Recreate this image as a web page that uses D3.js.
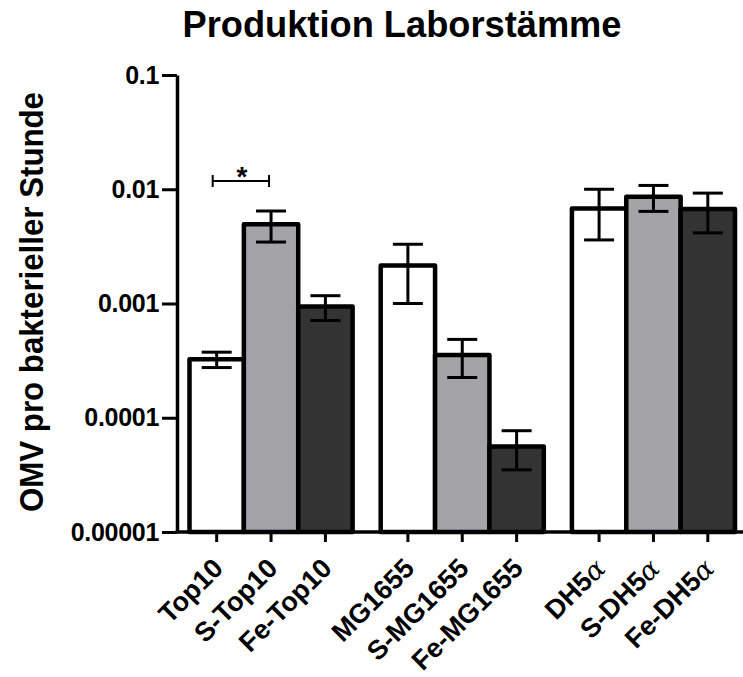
<!DOCTYPE html>
<html>
<head>
<meta charset="utf-8">
<script src="https://cdn.jsdelivr.net/npm/d3@7"></script>
<style>
  body { margin: 0; background: #fff; }
  svg { display: block; font-family: "Liberation Sans", Arial, sans-serif; }
</style>
</head>
<body>
<div id="chart"></div>
<script>
// Daten
const stamme = ["Top10", "MG1655", "DH5α"];
const varianten = ["", "S-", "Fe-"];
const mittelOhne = [0.000325, 0.00215, 0.0068];
const mittelS = [0.00495, 0.000355, 0.0086];
const mittelFe = [0.00094, 0.000056, 0.0067];
const semOhne = [0.00005, 0.00115, 0.0032];
const semS = [0.0015, 0.00013, 0.0022];
const semFe = [0.00023, 0.000021, 0.00255];
const yTickLabels = ["0.00001", "0.0001", "0.001", "0.01", "0.1"];
const farben = ["#ffffff", "#a3a3a8", "#333333"];

const width = 743, height = 677;
const svg = d3.select("#chart").append("svg")
  .attr("width", width)
  .attr("height", height);

const mittel = [mittelOhne, mittelS, mittelFe];
const sem = [semOhne, semS, semFe];

// Tabelle fuer die Balken
const data = [];
stamme.forEach((s, gi) => {
  varianten.forEach((v, vi) => {
    data.push({ stamm: s, variante: vi, label: v + s, wert: mittel[vi][gi], fehler: sem[vi][gi] });
  });
});

const x0 = d3.scaleBand()
  .domain(stamme)
  .range([189.5, 735])
  .paddingInner(0.147)
  .paddingOuter(0);

const x1 = d3.scaleBand()
  .domain(d3.range(varianten.length))
  .range([0, x0.bandwidth()]);

const y = d3.scaleLog()
  .domain([1e-5, 0.1])
  .range([532, 75]);

const cx = d => x0(d.stamm) + x1(d.variante) + x1.bandwidth() / 2;

// Balken
svg.append("g").selectAll("rect")
  .data(data)
  .enter().append("rect")
  .attr("x", d => x0(d.stamm) + x1(d.variante))
  .attr("y", d => y(d.wert))
  .attr("width", x1.bandwidth())
  .attr("height", d => y(1e-5) - y(d.wert))
  .attr("fill", d => farben[d.variante])
  .attr("stroke", "#000")
  .attr("stroke-width", 4.5)
  .attr("stroke-linejoin", "round");

// Fehlerbalken
const fb = svg.append("g")
  .attr("stroke", "#000")
  .attr("stroke-width", 3);
data.forEach(d => {
  const hi = y(d.wert + d.fehler), lo = y(d.wert - d.fehler), c = cx(d);
  fb.append("line").attr("x1", c).attr("x2", c).attr("y1", hi).attr("y2", lo);
  fb.append("line").attr("x1", c - 15).attr("x2", c + 15).attr("y1", hi).attr("y2", hi);
  fb.append("line").attr("x1", c - 15).attr("x2", c + 15).attr("y1", lo).attr("y2", lo);
});

// y-Achse
const yAxis = svg.append("g")
  .attr("transform", "translate(177,0)")
  .call(d3.axisLeft(y)
    .tickValues(yTickLabels.map(Number))
    .tickFormat((d, i) => yTickLabels[i])
    .tickSize(15)
    .tickSizeOuter(0)
    .tickPadding(3));
yAxis.select(".domain").attr("stroke-width", 3.5);
yAxis.selectAll(".tick line").attr("stroke-width", 3);
yAxis.selectAll(".tick text")
  .attr("font-size", 25)
  .attr("font-weight", "bold")
  .attr("fill", "#000")
  .attr("letter-spacing", -0.3);

// x-Achse
const xAxis = svg.append("g")
  .attr("transform", "translate(0,532)");
xAxis.append("line")
  .attr("x1", 175.5).attr("x2", 743)
  .attr("stroke", "#000").attr("stroke-width", 3.5);
xAxis.selectAll(".tick")
  .data(data)
  .enter().append("line")
  .attr("x1", cx).attr("x2", cx)
  .attr("y1", 0).attr("y2", 10)
  .attr("stroke", "#000").attr("stroke-width", 3);

const xl = xAxis.selectAll(".xlabel")
  .data(data)
  .enter().append("text")
  .attr("transform", d => `translate(${cx(d) + 8},38) rotate(-45)`)
  .attr("text-anchor", "end")
  .attr("font-size", 27)
  .attr("font-weight", "bold");
xl.each(function (d) {
  const t = d3.select(this);
  if (d.label.endsWith("α")) {
    t.append("tspan").text(d.label.slice(0, -1));
    t.append("tspan")
      .attr("font-family", "'DejaVu Serif', serif")
      .attr("font-style", "italic")
      .attr("font-weight", "normal")
      .text("α");
  } else {
    t.text(d.label);
  }
});

// Signifikanz
const a = cx(data[0]), b = cx(data[1]);
const sig = svg.append("g").attr("stroke", "#000").attr("stroke-width", 2);
sig.append("line").attr("x1", a - 4).attr("x2", b - 2).attr("y1", 181).attr("y2", 181);
sig.append("line").attr("x1", a - 4).attr("x2", a - 4).attr("y1", 175).attr("y2", 187);
sig.append("line").attr("x1", b - 2).attr("x2", b - 2).attr("y1", 175).attr("y2", 187);
svg.append("text")
  .attr("x", (a + b) / 2 - 2)
  .attr("y", 186)
  .attr("text-anchor", "middle")
  .attr("font-size", 28)
  .attr("font-weight", "bold")
  .text("*");

// Titel
svg.append("text")
  .attr("x", 402)
  .attr("y", 37)
  .attr("text-anchor", "middle")
  .attr("font-size", 36)
  .attr("font-weight", "bold")
  .attr("textLength", 439)
  .attr("lengthAdjust", "spacingAndGlyphs")
  .text("Produktion Laborstämme");

// y-Beschriftung
svg.append("text")
  .attr("transform", "translate(43,302) rotate(-90)")
  .attr("text-anchor", "middle")
  .attr("font-size", 34)
  .attr("font-weight", "bold")
  .attr("textLength", 420)
  .attr("lengthAdjust", "spacingAndGlyphs")
  .text("OMV pro bakterieller Stunde");
</script>
</body>
</html>
